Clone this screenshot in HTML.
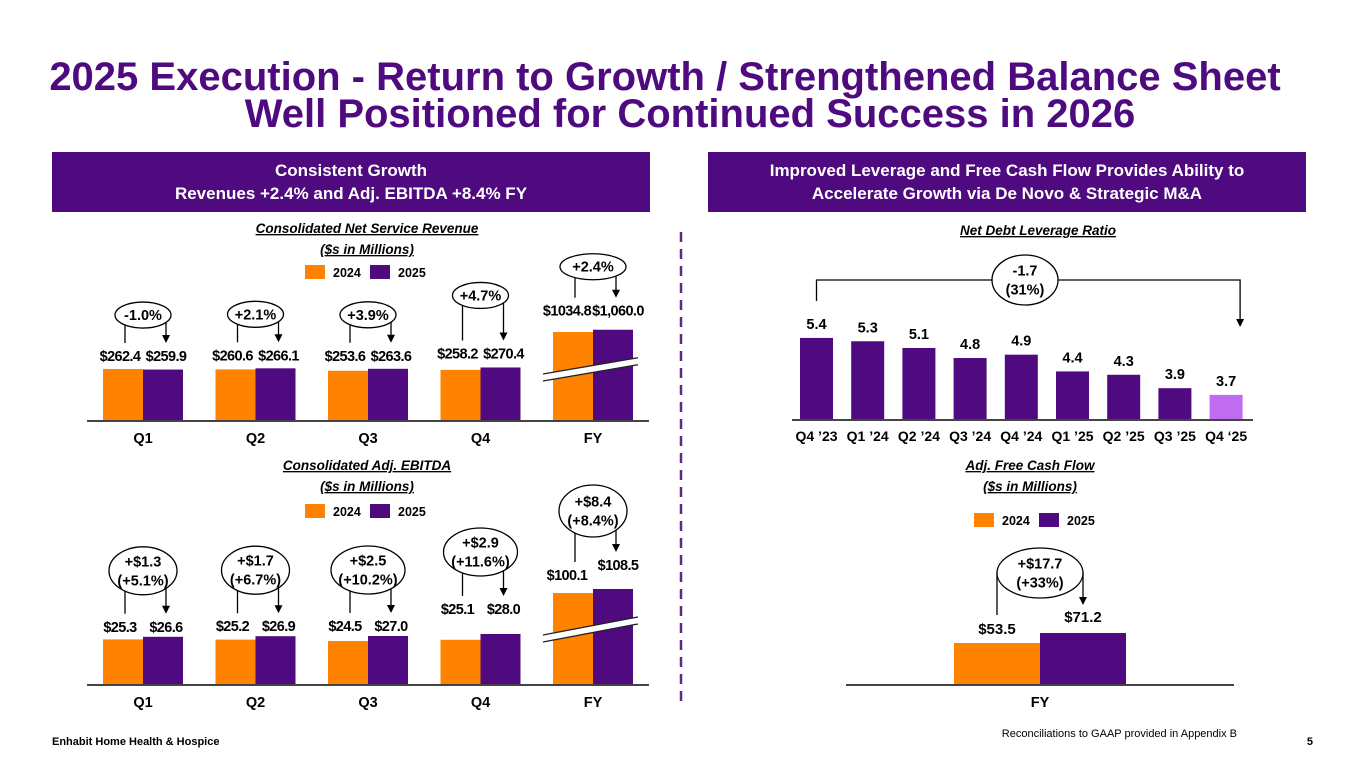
<!DOCTYPE html>
<html><head><meta charset="utf-8">
<style>
html,body{margin:0;padding:0;background:#fff;}
body{width:1365px;height:768px;overflow:hidden;position:relative;font-family:"Liberation Sans",Arial,sans-serif;}
svg text{font-family:"Liberation Sans",Arial,sans-serif;}
.hdr{font-family:"Liberation Sans Narrow","Liberation Sans",sans-serif;}
</style></head>
<body>
<svg id="slide" width="1365" height="768" viewBox="0 0 1365 768" xmlns="http://www.w3.org/2000/svg">
  <text x="665" y="90" text-anchor="middle" font-size="40" font-weight="bold" fill="#4E0A7E">2025 Execution - Return to Growth / Strengthened Balance Sheet</text>
  <text x="690" y="127" text-anchor="middle" font-size="40" font-weight="bold" fill="#4E0A7E">Well Positioned for Continued Success in 2026</text>

  <g>
    <rect x="52" y="152" width="598" height="60" fill="#4E0A7E"/>
    <text class="hdr" x="351" y="176" text-anchor="middle" font-size="17" font-weight="bold" fill="#fff">Consistent Growth</text>
    <text class="hdr" x="351" y="199" text-anchor="middle" font-size="17" font-weight="bold" fill="#fff">Revenues +2.4% and Adj. EBITDA +8.4% FY</text>
  </g>
  <g>
    <rect x="708" y="152" width="598" height="60" fill="#4E0A7E"/>
    <text class="hdr" x="1007" y="176" text-anchor="middle" font-size="17" font-weight="bold" fill="#fff">Improved Leverage and Free Cash Flow Provides Ability to</text>
    <text class="hdr" x="1007" y="199" text-anchor="middle" font-size="17" font-weight="bold" fill="#fff">Accelerate Growth via De Novo &amp; Strategic M&amp;A</text>
  </g>

  <line x1="681" y1="232" x2="681" y2="708" stroke="#5B2A86" stroke-width="2.5" stroke-dasharray="10,7"/>

  <g id="rev"></g>
  <g id="ebitda"></g>
  <g id="lev"></g>
  <g id="fcf"></g>

  <text x="52" y="745" font-size="11" font-weight="bold" fill="#000">Enhabit Home Health &amp; Hospice</text>
  <text x="1237" y="737" text-anchor="end" font-size="11" fill="#000">Reconciliations to GAAP provided in Appendix B</text>
  <text x="1313" y="745" text-anchor="end" font-size="11" font-weight="bold" fill="#000">5</text>
</svg>
<script>
const ORANGE="#FF8200", PURPLE="#4E0A7E", LIGHT="#C06CF0";
// Revenue data
const revCats=["Q1","Q2","Q3","Q4","FY"];
const rev2024=[262.4,260.6,253.6,258.2,1034.8];
const rev2025=[259.9,266.1,263.6,270.4,1060.0];
const rev2024Labels=["$262.4","$260.6","$253.6","$258.2","$1034.8"];
const rev2025Labels=["$259.9","$266.1","$263.6","$270.4","$1,060.0"];
const revChange=[["-1.0%"],["+2.1%"],["+3.9%"],["+4.7%"],["+2.4%"]];
// EBITDA data
const ebCats=["Q1","Q2","Q3","Q4","FY"];
const eb2024=[25.3,25.2,24.5,25.1,100.1];
const eb2025=[26.6,26.9,27.0,28.0,108.5];
const eb2024Labels=["$25.3","$25.2","$24.5","$25.1","$100.1"];
const eb2025Labels=["$26.6","$26.9","$27.0","$28.0","$108.5"];
const ebChange=[["+$1.3","(+5.1%)"],["+$1.7","(+6.7%)"],["+$2.5","(+10.2%)"],["+$2.9","(+11.6%)"],["+$8.4","(+8.4%)"]];
// Leverage data
const levCats=["Q4 \u201923","Q1 \u201924","Q2 \u201924","Q3 \u201924","Q4 \u201924","Q1 \u201925","Q2 \u201925","Q3 \u201925","Q4 \u201825"];
const levValues=[5.4,5.3,5.1,4.8,4.9,4.4,4.3,3.9,3.7];
const levChange=["-1.7","(31%)"];
// FCF data
const fcfCats=["FY"];
const fcf2024=[53.5];
const fcf2025=[71.2];
const fcfChange=["+$17.7","(+33%)"];

const NS="http://www.w3.org/2000/svg";
function mk(parent,tag,attrs,text){const e=document.createElementNS(NS,tag);for(const k in attrs)e.setAttribute(k,attrs[k]);if(text!==undefined)e.textContent=text;parent.appendChild(e);return e;}

function chartTitle(g,x,y1,l1,l2){
  const t1=mk(g,"text",{x:x,y:y1,"text-anchor":"middle","font-size":13.5,"font-weight":"bold","font-style":"italic","text-decoration":"underline",fill:"#000"},l1);
  
  
  if(l2){const t2=mk(g,"text",{x:x,y:y1+21,"text-anchor":"middle","font-size":13.5,"font-weight":"bold","font-style":"italic","text-decoration":"underline",fill:"#000"},l2);
  
  }
}
function legend(g,x,y){
  const a=mk(g,"rect",{x:x,y:y-7,width:20,height:14,fill:ORANGE});
  
  
  mk(g,"text",{x:x+28,y:y+5,"font-size":12.5,"font-weight":"bold"},"2024");
  const b=mk(g,"rect",{x:x+65,y:y-7,width:20,height:14,fill:PURPLE});
  
  
  mk(g,"text",{x:x+93,y:y+5,"font-size":12.5,"font-weight":"bold"},"2025");
}
function annot(g,cx,cy,rx,ry,lx,ly,rxp,ry2,lines){
  const p=mk(g,"path",{d:`M${lx},${ly} L${lx},${cy} L${rxp},${cy} L${rxp},${ry2-7}`,fill:"none",stroke:"#000","stroke-width":1.3});
  
  
  mk(g,"path",{d:`M${rxp-4},${ry2-8} L${rxp+4},${ry2-8} L${rxp},${ry2} Z`,fill:"#000"});
  const e=mk(g,"ellipse",{cx:cx,cy:cy,rx:rx,ry:ry,fill:"#fff",stroke:"#000","stroke-width":1.3});
  
  
  const n=lines.length;
  lines.forEach((s,i)=>{mk(g,"text",{x:cx,y:cy+5+(i-(n-1)/2)*19,"text-anchor":"middle","font-size":14.5,"font-weight":"bold"},s);});
}
function breakMark(g,x1,y1,x2,y2){
  mk(g,"polygon",{points:`${x1},${y1} ${x2},${y2} ${x2},${y2+7} ${x1},${y1+7}`,fill:"#fff"});
  mk(g,"line",{x1:x1,y1:y1,x2:x2,y2:y2,stroke:"#222","stroke-width":1.3});
  mk(g,"line",{x1:x1,y1:y1+7,x2:x2,y2:y2+7,stroke:"#222","stroke-width":1.3});
}

function grouped(g,opt){
  const {cats,a,b,al,bl,chg,base,qScale,fyScale,x0,step,bw,labelGap,annOpt}=opt;
  const xC=i=>x0+i*step;
  const h=(v,i)=> i===cats.length-1 ? fyScale(v) : qScale(v);
  cats.forEach((c,i)=>{
    const xc=xC(i);
    const last=i===cats.length-1;
    const ha=h(a[i],i), hb=h(b[i],i);
    const r1=mk(g,"rect",{x:xc-bw,y:base-ha,width:bw,height:ha,fill:ORANGE});
    
    
    const r2=mk(g,"rect",{x:xc,y:base-hb,width:bw,height:hb,fill:PURPLE});
    
    
    const top=Math.min(base-ha,base-hb);
    const ly=top-labelGap(i);
    mk(g,"text",{x:xc-bw/2-(last?6:3),y:ly+6,"text-anchor":"middle","font-size":14.5,"font-weight":"bold","letter-spacing":"-0.6"},al[i]);
    mk(g,"text",{x:xc+bw/2+(last?5:3),y:ly+6-(last?opt.fyShift:0),"text-anchor":"middle","font-size":14.5,"font-weight":"bold","letter-spacing":"-0.6"},bl[i]);
    const t=mk(g,"text",{x:xc,y:base+22,"text-anchor":"middle","font-size":14.5,"font-weight":"bold"},c);
    
    
    const ao=annOpt(i,ly);
    annot(g,xc+ao.dx,ao.cy,ao.rx,ao.ry,xc-bw/2+2,ly-12,xc+bw/2+3,ly-12-(last?opt.fyShift:0),chg[i]);
    if(last) breakMark(g,xc-bw-10,base-ha+42,xc+bw+5,base-hb+28);
  });
  const ax=mk(g,"line",{x1:opt.axX1,y1:base,x2:opt.axX2,y2:base,stroke:"#444","stroke-width":2});
  
  
}

const gR=document.getElementById("rev");
chartTitle(gR,367,233,"Consolidated  Net Service Revenue","($s in Millions)");
legend(gR,305,272);
grouped(gR,{cats:revCats,a:rev2024,b:rev2025,al:rev2024Labels,bl:rev2025Labels,chg:revChange,
  base:421,qScale:v=>v*0.198,fyScale:v=>89+(v-1034.8)*0.09,x0:143,step:112.5,bw:40,fyShift:0,
  labelGap:i=>i===3?15:(i===4?20:14),
  annOpt:(i,ly)=>({dx:0,cy:i===3?ly-57:(i===4?ly-43:ly-40),rx:i===4?33:28,ry:13}),
  axX1:87,axX2:649});

const gE=document.getElementById("ebitda");
chartTitle(gE,367,470,"Consolidated  Adj. EBITDA","($s in Millions)");
legend(gE,305,511);
grouped(gE,{cats:ebCats,a:eb2024,b:eb2025,al:eb2024Labels,bl:eb2025Labels,chg:ebChange,
  base:685,qScale:v=>(v-2.5)*2,fyScale:v=>92+(v-100.1)*0.48,x0:143,step:112.5,bw:40,fyShift:10,
  labelGap:i=>i===3?26:(i===4?15:11),
  annOpt:(i,ly)=>({dx:0,cy:i===3?ly-56:(i===4?ly-63:ly-55),rx:i===2||i===3?37:34,ry:i===4?26:24}),
  axX1:87,axX2:649});

const gL=document.getElementById("lev");
chartTitle(gL,1038,235,"Net Debt Leverage Ratio",null);
(function(){
  const base=420, x0=816.5, step=51.2, bw=33;
  const y=v=>base-(v-2.95)*33.5;
  levValues.forEach((v,i)=>{
    const xc=x0+i*step;
    const r=mk(gL,"rect",{x:xc-bw/2,y:y(v),width:bw,height:base-y(v),fill:i===levValues.length-1?LIGHT:PURPLE});
    
    
    mk(gL,"text",{x:xc,y:y(v)-9,"text-anchor":"middle","font-size":14.5,"font-weight":"bold"},v.toFixed(1));
    const t=mk(gL,"text",{x:xc,y:base+21,"text-anchor":"middle","font-size":14,"font-weight":"bold"},levCats[i]);
    
    
  });
  const ax=mk(gL,"line",{x1:792,y1:base,x2:1253,y2:base,stroke:"#444","stroke-width":2});
  
  
  const xl=x0, xr=x0+(levValues.length-1)*step+14;
  annot(gL,1025,280,33,25,xl,301,xr,327,levChange);
})();

const gF=document.getElementById("fcf");
chartTitle(gF,1030,470,"Adj. Free Cash Flow","($s in Millions)");
legend(gF,974,520);
(function(){
  const base=685, xc=1040, bw=86;
  const h=v=>(v+20.8)*0.565;
  const h1=h(fcf2024[0]), h2=h(fcf2025[0]);
  const r1=mk(gF,"rect",{x:xc-bw,y:base-h1,width:bw,height:h1,fill:ORANGE});
  
  
  const r2=mk(gF,"rect",{x:xc,y:base-h2,width:bw,height:h2,fill:PURPLE});
  
  
  mk(gF,"text",{x:997,y:base-h1-9,"text-anchor":"middle","font-size":15,"font-weight":"bold"},"$"+fcf2024[0].toFixed(1));
  mk(gF,"text",{x:1083,y:base-h2-11,"text-anchor":"middle","font-size":15,"font-weight":"bold"},"$"+fcf2025[0].toFixed(1));
  const ax=mk(gF,"line",{x1:846,y1:base,x2:1234,y2:base,stroke:"#444","stroke-width":2});
  
  
  const t=mk(gF,"text",{x:xc,y:base+22,"text-anchor":"middle","font-size":14.5,"font-weight":"bold"},fcfCats[0]);
  
  
  annot(gF,1040,573,43,25,997,base-h1-28,1083,base-h2-28,fcfChange);
})();
</script>
</body></html>
